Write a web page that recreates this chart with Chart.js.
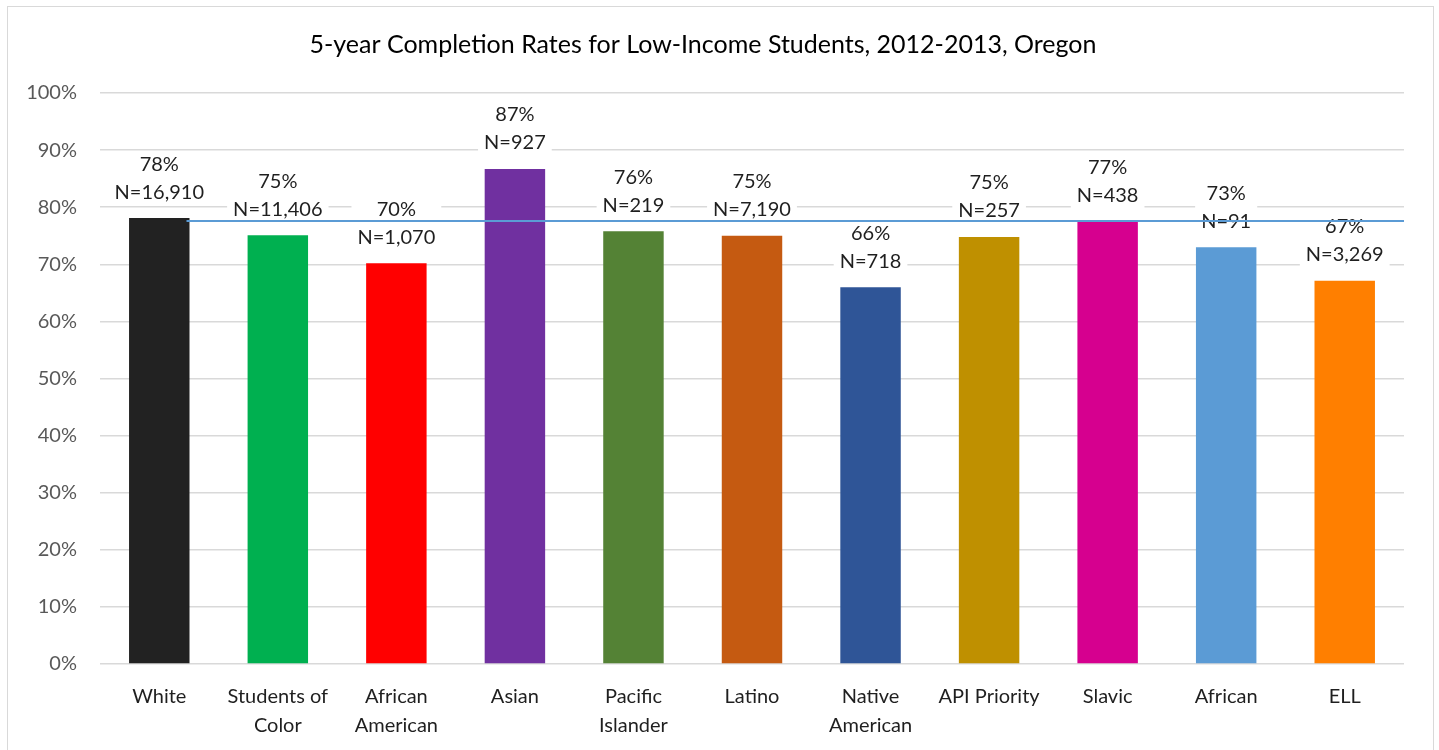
<!DOCTYPE html>
<html>
<head>
<meta charset="utf-8">
<title>5-year Completion Rates for Low-Income Students</title>
<script src="https://cdn.jsdelivr.net/npm/chart.js@4/dist/chart.umd.min.js"></script>
<style>
  html, body { margin: 0; padding: 0; background: #fff; }
  #wrap { position: relative; width: 1439px; height: 750px; }
</style>
</head>
<body>
<div id="wrap"><canvas id="completionChart" width="1439" height="750"></canvas></div>
<script>
// Dados por grupo de estudantes
const groups = [
    'White', ['Students of', 'Color'], ['African', 'American'], 'Asian',
    ['Pacific', 'Islander'], 'Latino', ['Native', 'American'], 'API Priority',
    'Slavic', 'African', 'ELL'
];
const completionRates = [78.1, 75.1, 70.2, 86.7, 75.8, 75.0, 66.0, 74.8, 77.4, 73.0, 67.1];
const studentCounts = [16910, 11406, 1070, 927, 219, 7190, 718, 257, 438, 91, 3269];
const barColors = [
    '#222222', '#00b050', '#ff0000', '#7030a0', '#548235', '#c55a11',
    '#2f5597', '#bf9000', '#d6008f', '#5b9bd5', '#ff7f00'
];
const yTicks = [0, 10, 20, 30, 40, 50, 60, 70, 80, 90, 100];
const referenceRate = 77.6;
const chartTitle = '5-year Completion Rates for Low-Income Students, 2012-2013, Oregon';

const FONT = 'Lato, "Open Sans", sans-serif';

// Moldura cinza e título
const framePlugin = {
    id: 'frame',
    beforeDraw(chart) {
        const ctx = chart.ctx;
        ctx.save();
        ctx.fillStyle = '#ffffff';
        ctx.fillRect(0, 0, chart.width, chart.height);
        ctx.strokeStyle = '#d9d9d9';
        ctx.lineWidth = 1;
        ctx.strokeRect(7.5, 6.5, 1426, 760);
        ctx.fillStyle = '#000000';
        ctx.font = '25px ' + FONT;
        ctx.textAlign = 'center';
        ctx.textBaseline = 'middle';
        ctx.fillText(chartTitle, 703, 45);
        ctx.restore();
    }
};

// Rótulos "xx%" / "N=..." com fundo branco acima de cada barra
const barLabelsPlugin = {
    id: 'barLabels',
    afterDatasetsDraw(chart) {
        const ctx = chart.ctx;
        const meta = chart.getDatasetMeta(0);
        ctx.save();
        ctx.font = '20px ' + FONT;
        ctx.textAlign = 'center';
        ctx.textBaseline = 'middle';
        meta.data.forEach((bar, i) => {
            const pct = Math.round(completionRates[i]) + '%';
            const n = 'N=' + studentCounts[i].toLocaleString('en-US');
            const yN = bar.y - 26;
            const yPct = bar.y - 54;
            const w = Math.max(ctx.measureText(pct).width, ctx.measureText(n).width) + 12;
            ctx.fillStyle = '#ffffff';
            ctx.fillRect(bar.x - w / 2, yPct - 13, w, (yN - yPct) + 26);
            ctx.fillStyle = '#1f1f1f';
            ctx.fillText(pct, bar.x, yPct);
            ctx.fillText(n, bar.x, yN);
        });
        ctx.restore();
    }
};

// Linha horizontal de referência (valor da taxa geral)
const referenceLinePlugin = {
    id: 'referenceLine',
    afterDraw(chart) {
        const ctx = chart.ctx;
        const y = chart.scales.y.getPixelForValue(referenceRate);
        const first = chart.getDatasetMeta(0).data[0];
        const x0 = first.x + first.width / 2 - 3;
        ctx.save();
        ctx.strokeStyle = '#5b9bd5';
        ctx.lineWidth = 2;
        ctx.beginPath();
        ctx.moveTo(x0, y);
        ctx.lineTo(chart.chartArea.right, y);
        ctx.stroke();
        ctx.restore();
    }
};

new Chart(document.getElementById('completionChart'), {
    type: 'bar',
    data: {
        labels: groups,
        datasets: [{
            label: 'Completion rate',
            data: completionRates,
            backgroundColor: barColors,
            borderWidth: 0,
            categoryPercentage: 1,
            barPercentage: 0.51
        }]
    },
    options: {
        responsive: false,
        animation: false,
        devicePixelRatio: 1,
        layout: { padding: { top: 93, right: 35, bottom: 0, left: 0 } },
        scales: {
            y: {
                min: 0,
                max: 100,
                afterBuildTicks(scale) {
                    scale.ticks = yTicks.map(v => ({ value: v }));
                },
                afterFit(scale) { scale.width = 100; },
                border: { display: false },
                grid: { color: '#d9d9d9', lineWidth: 1.5, drawTicks: false },
                ticks: {
                    padding: 23,
                    color: '#595959',
                    font: { family: FONT, size: 20 },
                    callback: v => v + '%'
                }
            },
            x: {
                afterFit(scale) { scale.height = 86; },
                border: { display: false },
                grid: { display: false, drawTicks: false },
                ticks: {
                    padding: 18,
                    color: '#1f1f1f',
                    maxRotation: 0,
                    autoSkip: false,
                    font: { family: FONT, size: 20, lineHeight: 1.45 }
                }
            }
        },
        plugins: {
            legend: { display: false },
            title: { display: false },
            tooltip: { enabled: false }
        }
    },
    plugins: [framePlugin, barLabelsPlugin, referenceLinePlugin]
});
</script>
</body>
</html>
